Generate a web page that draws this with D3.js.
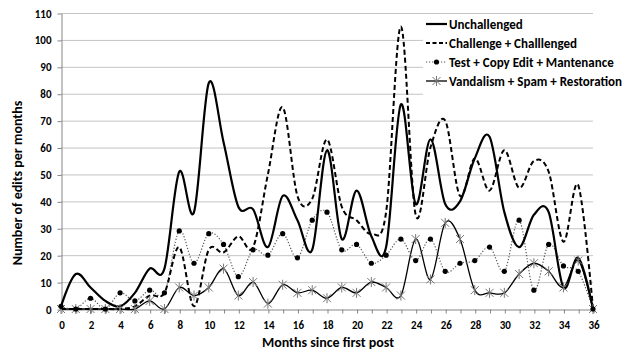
<!DOCTYPE html>
<meta charset="utf-8">
<style>
body { margin: 0; background: #fff; }
text { font-family: Carlito, "Open Sans", "Liberation Sans", sans-serif; font-weight: bold; fill: #000; }
.grid line { stroke: #c4c4c4; stroke-width: 1; }
.axis path, .axis line { stroke: #868686; }
</style>
<svg width="631" height="356"></svg>
<script src="https://d3js.org/d3.v7.min.js"></script>
<script>

var months = [0,1,2,3,4,5,6,7,8,9,10,11,12,13,14,15,16,17,18,19,20,21,22,23,24,25,26,27,28,29,30,31,32,33,34,35,36];
var xTicks = [0,2,4,6,8,10,12,14,16,18,20,22,24,26,28,30,32,34,36];
var yTicks = [0,10,20,30,40,50,60,70,80,90,100,110];

var unchallenged = [1,13,8,3,1,6,15,15,51,36,84,62,38,37,23,42,33,22,59,26,44,27,23,76,39,63,39,40,56,64,36,23,35,36,8,19,0];
var challenged   = [0,0,0,0,0,1,5,6,23,1,22,21,27,23,50,75,42,41,63,38,33,28,36,105,35,60,70,42,56,44,59,45,55,51,25,46,0];
var testEdit     = [1,0,4,0,6,3,7,6,29,17,28,24,12,22,20,28,19,33,36,22,24,17,20,26,18,26,14,17,18,23,14,33,7,24,16,14,0];
var vandalism    = [0,0,0,0,0,0,3,0,8,5,8,15,5,10,2,9,6,7,4,8,6,10,8,5,26,11,32,26,7,6,6,13,17,14,8,18,0];

var seriesNames = ["Unchallenged", "Challenge + Challlenged", "Test + Copy Edit + Mantenance", "Vandalism + Spam + Restoration"];

var svg = d3.select("svg");

var x = d3.scaleLinear().domain([0, 36]).range([61, 593]);
var y = d3.scaleLinear().domain([0, 110]).range([309, 13]);

// gridlines
svg.append("g")
    .attr("class", "grid")
  .selectAll("line")
  .data(yTicks.slice(1))
  .enter().append("line")
    .attr("x1", 61).attr("x2", 593)
    .attr("y1", function(d) { return y(d) + 0.5; })
    .attr("y2", function(d) { return y(d) + 0.5; });

// legend box hides gridlines behind it
svg.append("rect")
    .attr("x", 423).attr("y", 15)
    .attr("width", 175).attr("height", 82)
    .attr("fill", "#fff");

// axes
var yAxis = svg.append("g")
    .attr("class", "axis")
    .attr("transform", "translate(61.5,0.5)")
    .call(d3.axisLeft(y).tickValues(yTicks).tickSize(4).tickSizeOuter(0).tickPadding(6));
yAxis.selectAll("text").style("font-size", "11px");

var xAxis = svg.append("g")
    .attr("class", "axis")
    .attr("transform", "translate(0.5," + (y(0) + 0.5) + ")")
    .call(d3.axisBottom(x).tickValues(months).tickSize(4).tickSizeOuter(0).tickPadding(8)
      .tickFormat(function(d) { return xTicks.indexOf(d) >= 0 ? d : ""; }));
xAxis.selectAll("text").style("font-size", "11px");

var curve = d3.curveCardinal.tension(0);
function lineFor(vals) {
  return d3.line()
    .x(function(d, i) { return x(months[i]); })
    .y(function(d) { return y(d); })
    .curve(curve)(vals);
}

// lines
svg.append("path").attr("d", lineFor(vandalism))
    .attr("fill", "none").attr("stroke", "#000").attr("stroke-width", 1.3);
svg.append("path").attr("d", lineFor(testEdit))
    .attr("fill", "none").attr("stroke", "#555").attr("stroke-width", 1.2)
    .attr("stroke-dasharray", "1.2,1.8");
svg.append("path").attr("d", lineFor(challenged))
    .attr("fill", "none").attr("stroke", "#000").attr("stroke-width", 2)
    .attr("stroke-dasharray", "5,3");
svg.append("path").attr("d", lineFor(unchallenged))
    .attr("fill", "none").attr("stroke", "#000").attr("stroke-width", 2.2);

// markers
function asterisk(g, cx, cy) {
  var s = 4;
  g.append("path")
    .attr("d", "M" + (cx - s) + "," + (cy - s) + "L" + (cx + s) + "," + (cy + s) +
               "M" + (cx - s) + "," + (cy + s) + "L" + (cx + s) + "," + (cy - s) +
               "M" + cx + "," + (cy - s - 1) + "L" + cx + "," + (cy + s + 1))
    .attr("stroke", "#777").attr("stroke-width", 1).attr("fill", "none");
}
var mk = svg.append("g");
vandalism.forEach(function(v, i) { asterisk(mk, x(months[i]), y(v)); });

svg.append("g").selectAll("circle")
  .data(testEdit)
  .enter().append("circle")
    .attr("cx", function(d, i) { return x(months[i]); })
    .attr("cy", function(d) { return y(d); })
    .attr("r", 2.6)
    .attr("fill", "#000");

// legend
var legend = svg.append("g");
var rowY = [24, 43, 62, 81];
seriesNames.forEach(function(name, i) {
  var ly = rowY[i];
  var p = legend.append("line")
      .attr("x1", 426).attr("x2", 447).attr("y1", ly).attr("y2", ly);
  if (i === 0) p.attr("stroke", "#000").attr("stroke-width", 2.2);
  if (i === 1) p.attr("stroke", "#000").attr("stroke-width", 2).attr("stroke-dasharray", "4,2.5");
  if (i === 2) {
    p.attr("stroke", "#555").attr("stroke-width", 1.2).attr("stroke-dasharray", "1.2,1.8");
    legend.append("circle").attr("cx", 436.5).attr("cy", ly).attr("r", 2.6).attr("fill", "#000");
  }
  if (i === 3) {
    p.attr("stroke", "#000").attr("stroke-width", 1.3);
    asterisk(legend, 436.5, ly);
  }
  legend.append("text")
      .attr("x", 449).attr("y", ly + 4.5)
      .style("font-size", "13px")
      .text(name);
});

// axis titles
svg.append("text")
    .attr("x", 328).attr("y", 347)
    .attr("text-anchor", "middle")
    .style("font-size", "14px")
    .text("Months since first post");

svg.append("text")
    .attr("transform", "translate(22,183) rotate(-90)")
    .attr("text-anchor", "middle")
    .style("font-size", "14px")
    .text("Number of edits per months");

</script>
